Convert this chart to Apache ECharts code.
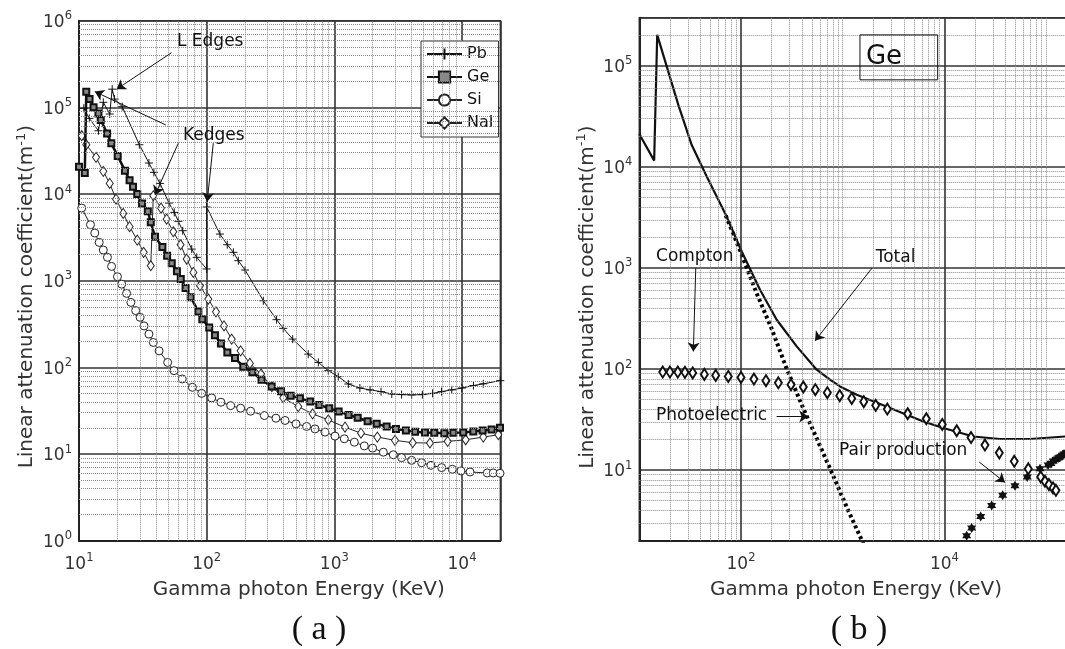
<!DOCTYPE html>
<html>
<head>
<meta charset="utf-8">
<script src="https://cdn.jsdelivr.net/npm/echarts@6/dist/echarts.min.js"></script>
<style>
html, body { margin: 0; padding: 0; background: #fff; }
#chart { width: 1065px; height: 649px; }
</style>
</head>
<body>
<div id="chart"></div>
<script>
// ---- (a) linear attenuation coefficient (m^-1) vs gamma energy (keV)
const pbE  = [10.9, 12.05, 14.2, 15.5, 17.4, 18.2, 19.0, 21.8, 29.7, 35.3, 38.6, 43.1, 50.7, 55.8, 60.0, 64.9, 76.4, 83.6, 100, 100, 127, 145, 162, 177, 200, 278, 353, 398, 472, 625, 750, 897, 1074, 1288, 1585, 1905, 2323, 2818, 3365, 4036, 4898, 5888, 6918, 8318, 10000, 12300, 14690, 19950];
const pbMu = [97700, 74600, 53700, 114300, 83800, 162200, 124700, 101900, 37070, 22800, 17780, 13270, 7870, 6140, 4840, 3776, 2317, 1858, 1365, 7080, 3451, 2600, 2123, 1702, 1327, 587, 355, 282, 212, 142, 114, 91.6, 78.2, 64.3, 57.8, 55.0, 52.5, 49.3, 48.5, 48.1, 48.5, 50.1, 52.5, 55.0, 57.8, 61.7, 64.6, 70.3];

const geE  = [10, 11.1, 11.4, 12.1, 13.0, 14.2, 14.8, 16.6, 17.9, 20.1, 22.9, 24.9, 26.5, 28.6, 31.2, 34.6, 36.5, 39.4, 45.0, 49.0, 53.3, 58.5, 62.7, 68.4, 75.0, 86.1, 92.5, 104.7, 116.1, 129.4, 145.2, 166.7, 193.6, 228, 269, 323, 382, 455, 538, 646, 762, 912, 1081, 1294, 1524, 1824, 2148, 2570, 3041, 3639, 4285, 5129, 6067, 7278, 8551, 10230, 12270, 14520, 17060, 19860];
const geMu = [20650, 17460, 151400, 124700, 100000, 85100, 71450, 50100, 38460, 27540, 18620, 14450, 12160, 10000, 7760, 6310, 4710, 3220, 2455, 1941, 1585, 1283, 1047, 822, 646, 441, 360, 288, 234, 189, 148.6, 127.9, 101.9, 87.7, 72.1, 60.0, 53.0, 47.2, 44.1, 40.3, 36.9, 33.8, 30.9, 28.3, 26.2, 23.9, 22.3, 20.8, 19.5, 18.7, 18.1, 17.7, 17.6, 17.4, 17.6, 17.7, 18.2, 18.7, 19.2, 20.1];

const siE  = [10.5, 12.3, 13.3, 14.4, 15.5, 16.7, 18.0, 20.0, 21.6, 23.6, 25.5, 27.8, 30.1, 32.3, 35.3, 38.2, 42.4, 49.5, 55.5, 64.4, 77.3, 91.4, 109.4, 129.4, 154.2, 184.5, 221, 283, 349, 411, 501, 607, 706, 845, 1012, 1197, 1435, 1718, 1995, 2421, 2897, 3365, 4036, 4831, 5715, 6934, 8395, 9817, 11560, 15780, 17580, 19860];
const siMu = [6890, 4426, 3548, 2767, 2259, 1862, 1462, 1112, 912, 714, 562, 452, 378, 301, 242, 194, 155, 114, 91.6, 73.5, 58.9, 50.1, 44.4, 39.6, 36.2, 33.8, 31.2, 27.8, 25.9, 24.4, 22.3, 20.8, 19.5, 17.9, 16.1, 15.0, 13.7, 12.4, 11.7, 10.5, 9.8, 9.08, 8.45, 7.94, 7.41, 6.97, 6.67, 6.38, 6.21, 6.05, 6.05, 6.0];

const naE  = [10.5, 11.4, 13.6, 15.5, 17.4, 19.5, 22.2, 24.9, 28.6, 32.1, 36.5, 38.2, 43.9, 48.6, 54.8, 62.5, 69.7, 78.7, 88.7, 103, 118.3, 136.8, 157, 184.5, 218, 267, 324, 398, 522, 676, 897, 1213, 1618, 2173, 2985, 4111, 5610, 7727, 10690, 14690, 19280];
const naMu = [47100, 37150, 26490, 18280, 13270, 8750, 5980, 4200, 2944, 2123, 1489, 9550, 6890, 5129, 3673, 2600, 1778, 1247, 875, 614, 437, 301, 212, 155, 111, 83.8, 60.0, 44.5, 35.3, 29.1, 24.8, 20.4, 17.4, 15.7, 14.4, 13.5, 13.4, 14.0, 14.6, 15.7, 16.7];

// ---- (b) Ge components
const totE  = [10, 14.0, 15.0, 24.2, 32.7, 46.0, 69.7, 101.6, 153.8, 224.4, 353, 555, 750, 940, 1374, 2000, 2917, 4256, 6209, 9750, 19230, 35240, 69500, 153800];
const totMu = [21200, 11560, 202800, 41100, 16560, 8040, 3490, 1455, 608, 307.6, 167.5, 98.4, 78.5, 67.3, 55.7, 47.9, 41.1, 35.3, 30.3, 26.1, 21.5, 20.3, 20.3, 21.5];

const peE  = [70.8, 100, 141, 200, 282, 398, 562, 794, 1122, 1585, 1778];
const peMu = [3311, 1413, 575, 251, 100, 43.7, 20, 9.1, 4.07, 1.9, 1.45];

const coE  = [17.0, 20.0, 23.9, 28.1, 33.5, 43.6, 56.4, 75.0, 100, 134, 176, 233, 310, 410, 538, 706, 935, 1227, 1611, 2113, 2748, 4355, 6637, 9528, 13210, 18280, 25060, 34670, 48640, 66830, 88510, 97500, 106700, 117000, 125000];
const coMu = [93.3, 93.3, 93.3, 92.7, 91.4, 88.5, 86.5, 84.5, 82.6, 79.6, 76.6, 73.1, 70.0, 66.4, 62.4, 58.3, 54.5, 51.2, 47.5, 43.7, 40.2, 36.1, 32.2, 28.3, 24.5, 21.0, 17.7, 14.8, 12.2, 10.3, 8.55, 7.74, 7.18, 6.65, 6.31];

const ppE  = [16560, 18530, 22750, 29170, 37410, 49430, 65310, 87100, 104700, 111700, 117500, 125000, 131800, 137100, 144500, 150000, 158500];
const ppMu = [2.24, 2.67, 3.48, 4.45, 5.62, 7.01, 8.55, 10.3, 11.2, 11.6, 12.3, 12.7, 13.2, 13.5, 14.0, 14.4, 14.8];

// log-paper grid: 2..9 inside each decade
const minorSteps = [2, 3, 4, 5, 6, 7, 8, 9];
const decadesAx = [10, 100, 1000];
const decadesAy = [1, 10, 100, 1000, 10000, 100000];
const decadesBx = [10, 100, 1000, 10000, 100000];
const decadesBy = [1, 10, 100, 1000, 10000, 100000];
const majorBx = [100, 10000];
const extraBx = [1000, 100000]; // unlabeled decades drawn like minor lines

const FONT = 'DejaVu Sans';
const zip = (xs, ys) => xs.map((x, i) => [x, ys[i]]);
const minorOf = (decs) => decs.flatMap((d) => minorSteps.map((s) => s * d));

function expLabel(keep) {
  return function (v) {
    const p = Math.log10(v);
    const e = Math.round(p);
    if (Math.abs(p - e) > 1e-6) return '';
    if (keep && keep.indexOf(e) < 0) return '';
    return '{b|10}{s|' + e + '}';
  };
}
const tickRich = {
  b: { fontSize: 17, lineHeight: 21, verticalAlign: 'bottom', color: '#333', fontFamily: FONT },
  s: { fontSize: 11.5, lineHeight: 12, verticalAlign: 'top', color: '#333', fontFamily: FONT },
};
const nameStyle = (pad) => ({
  fontSize: 20, color: '#333', fontFamily: FONT, lineHeight: 24, padding: pad,
  rich: { s: { fontSize: 13, lineHeight: 14, verticalAlign: 'top', color: '#333', fontFamily: FONT } },
});

function logAxis(grid, min, max, labels, opts) {
  return Object.assign({
    type: 'log', logBase: 10, gridIndex: grid, min: min, max: max,
    axisLine: { show: true, onZero: false, lineStyle: { color: '#222', width: 2 } },
    axisTick: { show: false },
    splitLine: { show: true, lineStyle: { color: '#333', width: 1.6 } },
    axisLabel: { formatter: labels, rich: tickRich, margin: 7 },
  }, opts);
}

function gridLines(g, xs, ys, style) {
  return {
    type: 'line', xAxisIndex: g, yAxisIndex: g, data: [], z: 1, silent: true,
    markLine: {
      silent: true, animation: false, symbol: ['none', 'none'],
      label: { show: false }, emphasis: { disabled: true },
      lineStyle: style,
      data: xs.map((v) => ({ xAxis: v })).concat(ys.map((v) => ({ yAxis: v }))),
    },
  };
}

function arrows(g, list) {
  return {
    type: 'line', xAxisIndex: g, yAxisIndex: g, data: [], z: 6, silent: true,
    markLine: {
      silent: true, animation: false, symbol: ['none', 'arrow'], symbolSize: 9,
      label: { show: false }, emphasis: { disabled: true },
      lineStyle: { color: '#111', width: 1, type: 'solid' },
      data: list.map((a) => [{ coord: a[0] }, { coord: a[1] }]),
    },
  };
}

const minorStyle = { color: '#8a8a8a', width: 1, type: [1, 1] };
const plusSym = 'path://M0,5L10,5M5,0L5,10';
const starSym = 'path://M5,0L6.443,2.5L9.33,2.5L7.887,5L9.33,7.5L6.443,7.5L5,10L3.557,7.5L0.67,7.5L2.113,5L0.67,2.5L3.557,2.5Z';

const chart = echarts.init(document.getElementById('chart'));

const option = {
  animation: false,
  backgroundColor: '#fff',
  textStyle: { fontFamily: FONT },
  grid: [
    { left: 79, top: 20.7, width: 421.4, height: 520, show: true, borderColor: '#333', borderWidth: 1.5, containLabel: false, outerBoundsMode: 'none' },
    { left: 639.3, top: 17.7, width: 437.4, height: 523, show: true, borderColor: '#333', borderWidth: 1.5, containLabel: false, outerBoundsMode: 'none' },
  ],
  xAxis: [
    logAxis(0, 10, 20000, expLabel(), {
      name: 'Gamma photon Energy (KeV)', nameLocation: 'middle', nameGap: 34,
      nameTextStyle: nameStyle([0, 0, 0, 18]),
      axisLabel: { formatter: expLabel(), rich: tickRich, margin: 11 },
    }),
    logAxis(1, 10, 200000, expLabel([2, 4]), {
      name: 'Gamma photon Energy (KeV)', nameLocation: 'middle', nameGap: 34,
      nameTextStyle: nameStyle([0, 4, 0, 0]),
      splitLine: { show: false },
      axisLabel: { formatter: expLabel([2, 4]), rich: tickRich, margin: 11 },
    }),
  ],
  yAxis: [
    logAxis(0, 1, 1000000, expLabel(), {
      name: 'Linear attenuation coefficient(m{s|-1})', nameLocation: 'middle', nameGap: 38,
      nameTextStyle: nameStyle([0, 32, 0, 0]),
    }),
    logAxis(1, 2, 300000, expLabel(), {
      name: 'Linear attenuation coefficient(m{s|-1})', nameLocation: 'middle', nameGap: 38,
      nameTextStyle: nameStyle([0, 36, 0, 0]),
    }),
  ],
  legend: {
    data: ['Pb', 'Ge', 'Si', 'NaI'], orient: 'vertical', left: 421, top: 41,
    padding: [5, 5, 6, 5], itemWidth: 35, itemHeight: 14, itemGap: 7,
    borderColor: '#333', borderWidth: 1, backgroundColor: '#fff',
    selectedMode: false, textStyle: { fontSize: 16, color: '#111', fontFamily: FONT },
  },
  series: [
    gridLines(0, minorOf(decadesAx), minorOf(decadesAy), minorStyle),
    gridLines(1,
      minorOf(decadesBx).concat(extraBx).filter((v) => v < 200000),
      minorOf(decadesBy).filter((v) => v > 2 && v < 300000),
      minorStyle),
    gridLines(1, majorBx, [], { color: '#333', width: 1.6, type: 'solid' }),

    {
      name: 'Pb', type: 'line', xAxisIndex: 0, yAxisIndex: 0, z: 3,
      data: zip(pbE, pbMu), symbol: plusSym, symbolSize: 8,
      lineStyle: { color: '#111', width: 1 },
      itemStyle: { color: '#111', borderColor: '#111', borderWidth: 1 },
    },
    {
      name: 'Ge', type: 'line', xAxisIndex: 0, yAxisIndex: 0, z: 4,
      data: zip(geE, geMu), symbol: 'rect', symbolSize: 6,
      lineStyle: { color: '#111', width: 2.5 },
      itemStyle: { color: '#888', borderColor: '#111', borderWidth: 2 },
    },
    {
      name: 'Si', type: 'line', xAxisIndex: 0, yAxisIndex: 0, z: 3,
      data: zip(siE, siMu), symbol: 'circle', symbolSize: 8,
      lineStyle: { color: '#222', width: 1 },
      itemStyle: { color: '#fff', borderColor: '#222', borderWidth: 1 },
    },
    {
      name: 'NaI', type: 'line', xAxisIndex: 0, yAxisIndex: 0, z: 3,
      data: zip(naE, naMu), symbol: 'diamond', symbolSize: [7, 10],
      lineStyle: { color: '#222', width: 1 },
      itemStyle: { color: '#fff', borderColor: '#222', borderWidth: 1 },
    },

    {
      name: 'Photoelectric', type: 'line', xAxisIndex: 1, yAxisIndex: 1, z: 3,
      data: zip(peE, peMu), symbol: 'none',
      lineStyle: { color: '#000', width: 4, type: [3, 3] },
    },
    {
      name: 'Total', type: 'line', xAxisIndex: 1, yAxisIndex: 1, z: 4,
      data: zip(totE, totMu), symbol: 'none',
      lineStyle: { color: '#111', width: 2.2 },
    },
    {
      name: 'Compton', type: 'scatter', xAxisIndex: 1, yAxisIndex: 1, z: 5,
      data: zip(coE, coMu), symbol: 'diamond', symbolSize: [7, 11],
      itemStyle: { color: '#fff', borderColor: '#111', borderWidth: 2, opacity: 1 },
    },
    {
      name: 'Pair production', type: 'scatter', xAxisIndex: 1, yAxisIndex: 1, z: 5,
      data: zip(ppE, ppMu), symbol: starSym, symbolSize: [9, 10],
      itemStyle: { color: '#111', opacity: 1 },
    },

    arrows(0, [
      [[53, 427000], [19.7, 162000]],
      [[47.8, 62700], [13.3, 152000]],
      [[60, 38550], [39.4, 9770]],
      [[112.7, 38550], [101, 8170]],
    ]),
    arrows(1, [
      [[35.9, 998], [34.0, 149]],
      [[1941, 998], [535, 190]],
      [[224, 33.9], [459, 33.9]],
      [[22030, 12.0], [39450, 7.55]],
    ]),
  ],
};

chart.setOption(option);

// text annotations, anchored at data coordinates (left / middle)
const notes = [
  [0, 58.5, 568000, 'L Edges', 17],
  [0, 65.2, 47400, 'Kedges', 17],
  [1, 14.6, 1306, 'Compton', 17],
  [1, 2109, 1277, 'Total', 17],
  [1, 14.6, 34.8, 'Photoelectric', 17],
  [1, 920, 15.5, 'Pair production', 17],
  [1, 1694, 122700, 'Ge', 26],
];
const px = (g, x, y) => chart.convertToPixel({ xAxisIndex: g, yAxisIndex: g }, [x, y]);
const graphic = notes.map((n) => {
  const p = px(n[0], n[1], n[2]);
  return {
    type: 'text', x: p[0], y: p[1], z: 20,
    style: { text: n[3], fill: '#111', font: n[4] + 'px "' + FONT + '"', textAlign: 'left', textVerticalAlign: 'middle' },
  };
});
const b0 = px(1, 1479, 202700);
const b1 = px(1, 8590, 72800);
graphic.push({
  type: 'rect', z: 19,
  shape: { x: b0[0], y: b0[1], width: b1[0] - b0[0], height: b1[1] - b0[1] },
  style: { fill: 'none', stroke: '#111', lineWidth: 1 },
});
graphic.push(
  { type: 'text', x: 319, y: 630, z: 20, style: { text: '( a )', fill: '#111', font: '34px "Liberation Serif"', textAlign: 'center', textVerticalAlign: 'middle' } },
  { type: 'text', x: 859, y: 630, z: 20, style: { text: '( b )', fill: '#111', font: '34px "Liberation Serif"', textAlign: 'center', textVerticalAlign: 'middle' } }
);
chart.setOption({ graphic: graphic });
</script>
</body>
</html>
